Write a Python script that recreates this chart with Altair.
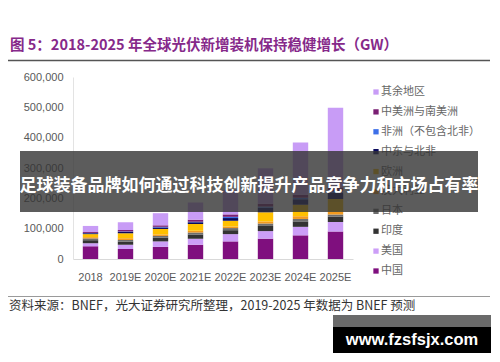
import altair as alt
import pandas as pd

years = ["2018", "2019E", "2020E", "2021E", "2022E", "2023E", "2024E", "2025E"]

stack_order = ["中国", "美国", "印度", "日本", "澳大利亚", "欧洲",
               "中东与北非", "非洲（不包含北非）", "中美洲与南美洲", "其余地区"]
legend_order = list(reversed(stack_order))
legend_colors = ["#c89cf6", "#7a1f73", "#3d6fe8", "#0b0b5e", "#ffc000",
                 "#f39a1e", "#6e6e6e", "#333333", "#cc9ef7", "#7f0f7e"]

china = [42000, 33000, 40000, 47000, 58000, 67000, 78000, 91000]
usa = [10000, 14000, 18000, 20000, 24000, 25000, 28000, 31000]
india = [10000, 10000, 12000, 14000, 13000, 17000, 18000, 17000]
japan = [6000, 6000, 6000, 6000, 7000, 8000, 8000, 8000]
australia = [4000, 5000, 5000, 6000, 5000, 7000, 9000, 9000]
europe = [10000, 17000, 18000, 22000, 19000, 30000, 38000, 42000]
mena = [3000, 4000, 5000, 6000, 9000, 15000, 18000, 20000]
africa = [1000, 2000, 2000, 2000, 4000, 4000, 5000, 6000]
csa = [3000, 5000, 5000, 6000, 8000, 9000, 10000, 12000]
rest = [20000, 25000, 40000, 57000, 81000, 117000, 172000, 263000]

y_ticks = [0, 100000, 200000, 300000, 400000, 500000, 600000]

title_text = "图 5：2018-2025 年全球光伏新增装机保持稳健增长（GW）"
source_text = "资料来源：BNEF，光大证券研究所整理，2019-2025 年数据为 BNEF 预测"
banner_text = "足球装备品牌如何通过科技创新提升产品竞争力和市场占有率"
site_text = "www.fzsfsjx.com"

series = [china, usa, india, japan, australia, europe, mena, africa, csa, rest]
rows = []
for k, (name, vals) in enumerate(zip(stack_order, series)):
    for yr, v in zip(years, vals):
        rows.append({"year": yr, "region": name, "value": v, "ord": k})
df = pd.DataFrame(rows)
legend_df = pd.DataFrame({"region": legend_order})

cjk = "Noto Sans CJK SC"
color_scale = alt.Scale(domain=legend_order, range=legend_colors)

bars = alt.Chart(df).mark_bar().encode(
    x=alt.X("year:N", sort=years, title=None,
            scale=alt.Scale(paddingInner=0.56, paddingOuter=0.28),
            axis=alt.Axis(labelAngle=0, ticks=False, domainColor="#d9d9d9",
                          labelColor="#595959", labelFont="Liberation Sans",
                          labelFontSize=11, labelPadding=12)),
    y=alt.Y("value:Q", stack="zero", title=None,
            scale=alt.Scale(domain=[0, 600000], nice=False),
            axis=alt.Axis(values=y_ticks, format=",d", grid=False, ticks=False,
                          domainColor="#e3e3e3", labelColor="#595959",
                          labelFont="Liberation Sans", labelFontSize=11,
                          labelPadding=10)),
    color=alt.Color("region:N", scale=color_scale, legend=None),
    order=alt.Order("ord:Q", sort="ascending"),
)

leg_y = alt.Y("region:N", sort=legend_order, axis=None,
              scale=alt.Scale(range=[15, 194], padding=0))
leg_sym = alt.Chart(legend_df).mark_square(size=28, opacity=1).encode(
    x=alt.value(303), y=leg_y,
    color=alt.Color("region:N", scale=color_scale, legend=None),
)
leg_txt = alt.Chart(legend_df).mark_text(
    align="left", baseline="middle", font=cjk, fontSize=11, color="#666666"
).encode(x=alt.value(308), y=leg_y, text="region:N")

one = pd.DataFrame({"t": [title_text]})
title = alt.Chart(one).mark_text(
    align="left", baseline="middle", font=cjk, fontSize=14.5, fontWeight="bold",
    color="#86298a"
).encode(x=alt.value(-63), y=alt.value(-31), text=alt.value(title_text))

title_rule = alt.Chart(one).mark_rule(color="#555555", strokeWidth=1.5).encode(
    x=alt.value(-65), x2=alt.value(417), y=alt.value(-16.5))
src_rule = alt.Chart(one).mark_rule(color="#9a9a9a", strokeWidth=1).encode(
    x=alt.value(-65), x2=alt.value(417), y=alt.value(219.5))
source = alt.Chart(one).mark_text(
    align="left", baseline="middle", font=cjk, fontSize=12.5, color="#333333"
).encode(x=alt.value(-64), y=alt.value(229), text=alt.value(source_text))

banner_rect = alt.Chart(one).mark_rect(color="#333333", opacity=0.8).encode(
    x=alt.value(-53), x2=alt.value(405), y=alt.value(74), y2=alt.value(135))
banner = alt.Chart(one).mark_text(
    align="center", baseline="middle", font=cjk, fontSize=17, fontWeight="bold",
    color="#ffffff"
).encode(x=alt.value(176), y=alt.value(109), text=alt.value(banner_text))

wm_gray = alt.Chart(one).mark_rect(color="#5a5a5a", opacity=0.9).encode(
    x=alt.value(260), x2=alt.value(418), y=alt.value(238), y2=alt.value(250))
wm_black = alt.Chart(one).mark_rect(color="#000000").encode(
    x=alt.value(260), x2=alt.value(418), y=alt.value(250), y2=alt.value(276))
wm_text = alt.Chart(one).mark_text(
    align="center", baseline="middle", font="Liberation Sans", fontSize=16.5,
    fontWeight="bold", color="#ffffff"
).encode(x=alt.value(339), y=alt.value(263), text=alt.value(site_text))

chart = alt.layer(
    bars, leg_sym, leg_txt, title, title_rule, src_rule, source,
    banner_rect, banner, wm_gray, wm_black, wm_text
).resolve_scale(y="independent").properties(
    width=280, height=182,
    autosize=alt.AutoSizeParams(type="none"),
    padding={"left": 65, "top": 69, "right": 139, "bottom": 95},
    background="#ffffff",
).configure_view(stroke=None)

chart.save("out.html", embed_options={"renderer": "svg", "actions": False})
